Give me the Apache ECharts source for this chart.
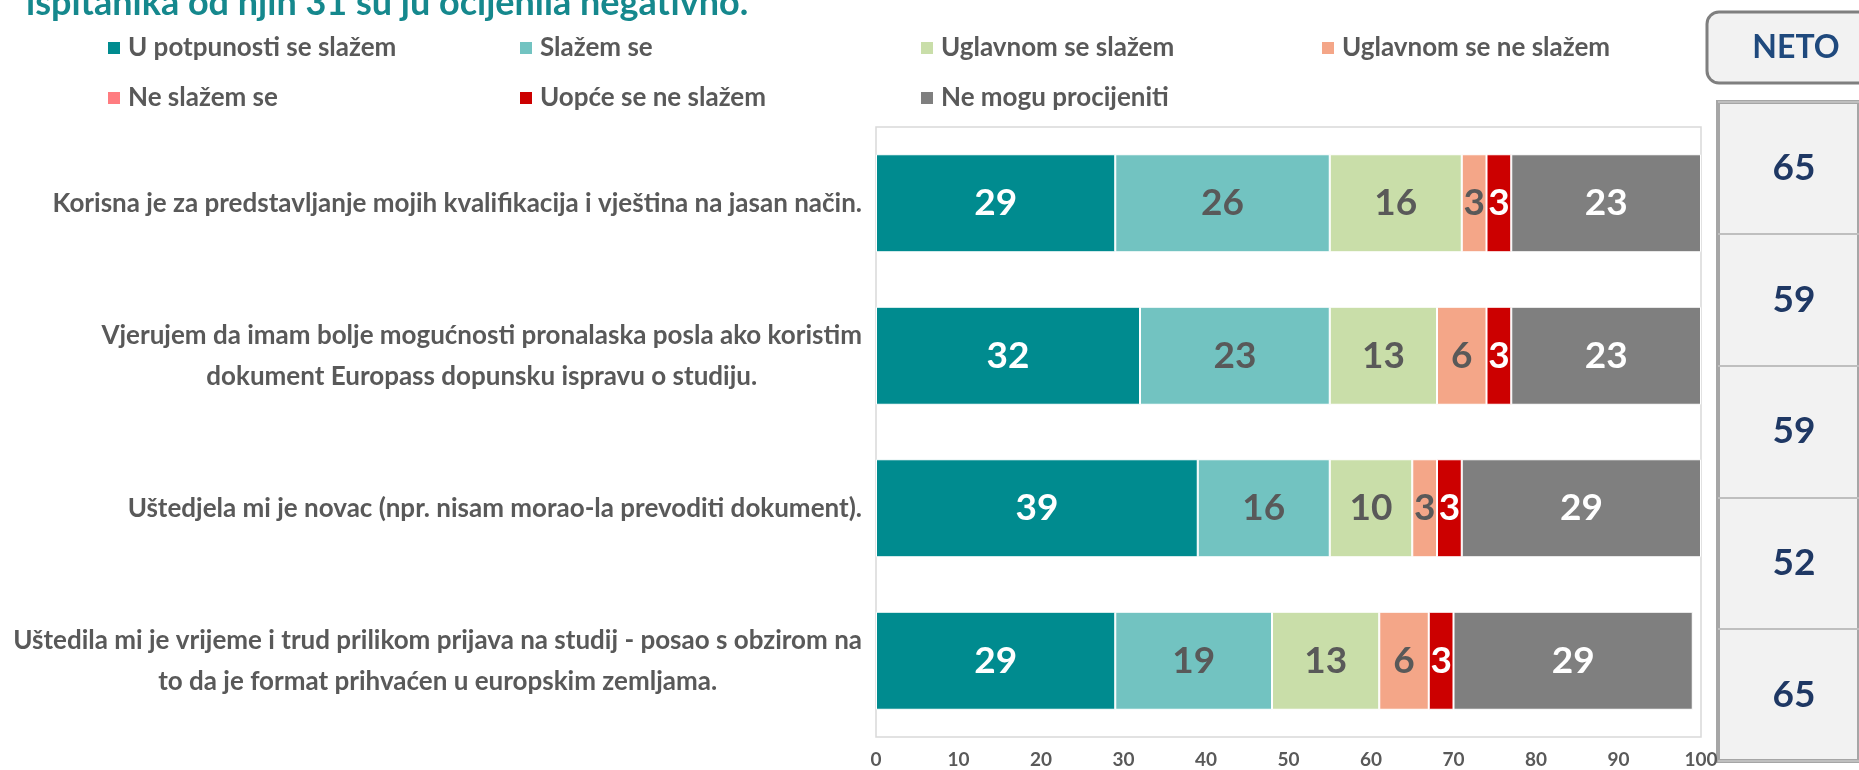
<!DOCTYPE html>
<html>
<head>
<meta charset="utf-8">
<style>
  html, body { margin: 0; padding: 0; background: #fff; }
  #chart { width: 1859px; height: 770px; }
</style>
<script src="https://cdn.jsdelivr.net/npm/echarts@6/dist/echarts.min.js"></script>
</head>
<body>
<div id="chart"></div>
<script>
const titleText = 'ispitanika od njih 31 su ju ocijenila negativno.'

const statements = [
  'Korisna je za predstavljanje mojih kvalifikacija i vještina na jasan način.',
  'Vjerujem da imam bolje mogućnosti pronalaska posla ako koristim\ndokument Europass dopunsku ispravu o studiju.',
  'Uštedjela mi je novac (npr. nisam morao-la prevoditi dokument).',
  'Uštedila mi je vrijeme i trud prilikom prijava na studij - posao s obzirom na\nto da je format prihvaćen u europskim zemljama.'
]

const seriesNames = [
  'U potpunosti se slažem',
  'Slažem se',
  'Uglavnom se slažem',
  'Uglavnom se ne slažem',
  'Ne slažem se',
  'Uopće se ne slažem',
  'Ne mogu procijeniti'
]

const fullyAgree = [29, 32, 39, 29]
const agree = [26, 23, 16, 19]
const mostlyAgree = [16, 13, 10, 13]
const mostlyDisagree = [3, 6, 3, 6]
const disagree = [0, 0, 0, 0]
const stronglyDisagree = [3, 3, 3, 3]
const cantSay = [23, 23, 29, 29]

const netoValues = [65, 59, 59, 52, 65]

const xTicks = [0, 10, 20, 30, 40, 50, 60, 70, 80, 90, 100]

const colors = ['#008b8f', '#72c3c1', '#c9dea9', '#f4a688', '#ff7c80', '#cc0000', '#7f7f7f']
const labelColors = ['#fff', '#595959', '#595959', '#595959', '#595959', '#fff', '#fff']
const values = [fullyAgree, agree, mostlyAgree, mostlyDisagree, disagree, stronglyDisagree, cantSay]

const font = 'Lato'
const gray = '#595959'

const chart = echarts.init(document.getElementById('chart'))

// one legend per column so the columns line up like the original
const legendCols = [[0, 4], [1, 5], [2, 6], [3]]
const legendLeft = [106, 518, 919, 1320]

const legends = legendCols.map((idx, i) => ({
  data: idx.map(k => seriesNames[k]),
  orient: 'vertical',
  left: legendLeft[i],
  top: 33,
  padding: 0,
  itemGap: 20,
  itemWidth: 14,
  itemHeight: 14,
  icon: 'rect',
  selectedMode: false,
  textStyle: {
    fontFamily: font,
    fontWeight: 'bold',
    fontSize: 26,
    lineHeight: 30,
    color: gray,
    padding: [0, 0, 0, 2]
  }
}))

const series = seriesNames.map((name, i) => ({
  name: name,
  type: 'bar',
  stack: 'total',
  barWidth: 98,
  xAxisIndex: 0,
  yAxisIndex: 0,
  itemStyle: { color: colors[i], borderColor: '#fff', borderWidth: 1 },
  label: {
    show: true,
    position: 'inside',
    fontFamily: font,
    fontWeight: 'bold',
    fontSize: 37,
    color: labelColors[i],
    formatter: p => (p.value ? p.value : '')
  },
  data: values[i]
}))

const option = {
  backgroundColor: '#fff',
  animation: false,
  title: {
    text: titleText,
    left: 26,
    top: -15,
    padding: 0,
    textStyle: { fontFamily: font, fontWeight: 'bold', fontSize: 36, color: '#15888d' }
  },
  legend: legends,
  grid: [
    {
      left: 876, right: 158, top: 127, bottom: 33,
      show: true, borderColor: '#d9d9d9', borderWidth: 1.5
    },
    {
      left: 1718, right: -12, top: 102, bottom: 9,
      show: true, backgroundColor: '#f2f2f2', borderColor: '#a6a6a6', borderWidth: 4
    }
  ],
  xAxis: [
    {
      type: 'value',
      gridIndex: 0,
      min: 0,
      max: 100,
      interval: 10,
      axisLine: { show: false },
      axisTick: { show: false },
      splitLine: { show: false },
      axisLabel: {
        margin: 13,
        fontFamily: font,
        fontWeight: 'bold',
        fontSize: 19,
        color: gray,
        formatter: v => (xTicks.includes(v) ? String(v) : '')
      }
    },
    {
      type: 'value',
      gridIndex: 1,
      min: 0,
      max: 1,
      show: false
    }
  ],
  yAxis: [
    {
      type: 'category',
      gridIndex: 0,
      inverse: true,
      data: statements,
      axisLine: { show: false },
      axisTick: { show: false },
      axisLabel: {
        margin: 14,
        align: 'right',
        formatter: v => v.split('\n').map(l => '{c|' + l + '}').join('\n'),
        rich: {
          c: {
            align: 'center',
            fontFamily: font,
            fontWeight: 'bold',
            fontSize: 26,
            lineHeight: 41,
            color: gray
          }
        }
      }
    },
    {
      type: 'category',
      gridIndex: 1,
      inverse: true,
      data: netoValues.map(String),
      axisLine: { show: false },
      axisTick: { show: false },
      splitLine: { show: true, lineStyle: { color: '#bfbfbf', width: 2 } },
      axisLabel: {
        inside: true,
        margin: 76,
        align: 'center',
        fontFamily: font,
        fontWeight: 'bold',
        fontSize: 37,
        color: '#1f3864'
      }
    }
  ],
  graphic: [
    {
      type: 'rect',
      shape: { x: 1707, y: 12, width: 200, height: 71, r: 12 },
      style: { fill: '#f2f2f2', stroke: '#7f7f7f', lineWidth: 3 }
    },
    {
      type: 'text',
      x: 1796,
      y: 48,
      style: {
        text: 'NETO',
        fontFamily: font,
        fontWeight: 'bold',
        fontSize: 32,
        fill: '#1f497d',
        align: 'center',
        verticalAlign: 'middle'
      }
    }
  ],
  series: series
}

chart.setOption(option)
</script>
</body>
</html>
